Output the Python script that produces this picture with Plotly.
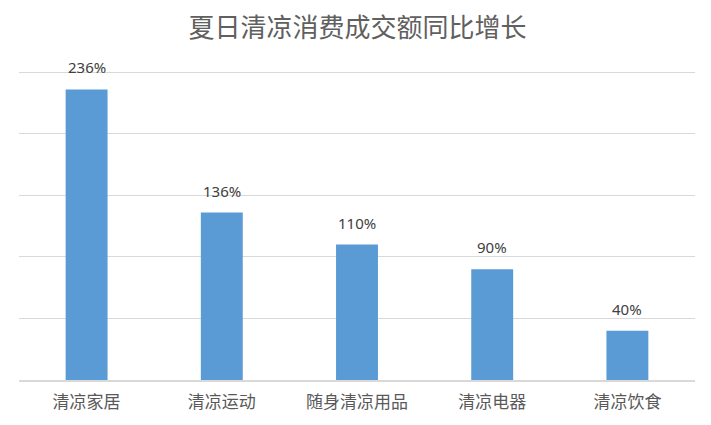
import plotly.graph_objects as go

categories = ["清凉家居", "清凉运动", "随身清凉用品", "清凉电器", "清凉饮食"]
values = [236, 136, 110, 90, 40]
labels = ["236%", "136%", "110%", "90%", "40%"]
y_ticks = [0, 50, 100, 150, 200, 250]

fig = go.Figure()
fig.add_trace(go.Bar(
    x=categories, y=values, width=0.31,
    marker=dict(color="#5B9BD5", line=dict(width=0)),
    hoverinfo="skip",
))

for c, v, t in zip(categories, values, labels):
    fig.add_annotation(x=c, y=v, text=t, showarrow=False, yanchor="middle",
                       yshift=22, font=dict(size=15, color="#404040",
                                            family="Noto Sans, sans-serif"))

fig.update_layout(
    width=695, height=409,
    margin=dict(l=11, r=8, t=63, b=37, autoexpand=False),
    paper_bgcolor="white", plot_bgcolor="white",
    showlegend=False,
    title=dict(text="夏日清凉消费成交额同比增长", x=0.503, xanchor="center",
               y=1 - 19.5/409, yanchor="middle",
               font=dict(size=26, color="#606060",
                         family="Noto Sans CJK SC, sans-serif")),
    xaxis=dict(showgrid=False, showline=True, linecolor="#D9D9D9", linewidth=1.5,
               ticks="", ticklabelstandoff=6, automargin=False,
               tickfont=dict(size=17, color="#595959",
                             family="Noto Sans CJK SC, sans-serif")),
    yaxis=dict(range=[0, 251], tickvals=y_ticks, showticklabels=False,
               showgrid=True, gridcolor="#D9D9D9", gridwidth=1,
               zeroline=False, showline=False, automargin=False),
)

fig.write_html("out.html")
